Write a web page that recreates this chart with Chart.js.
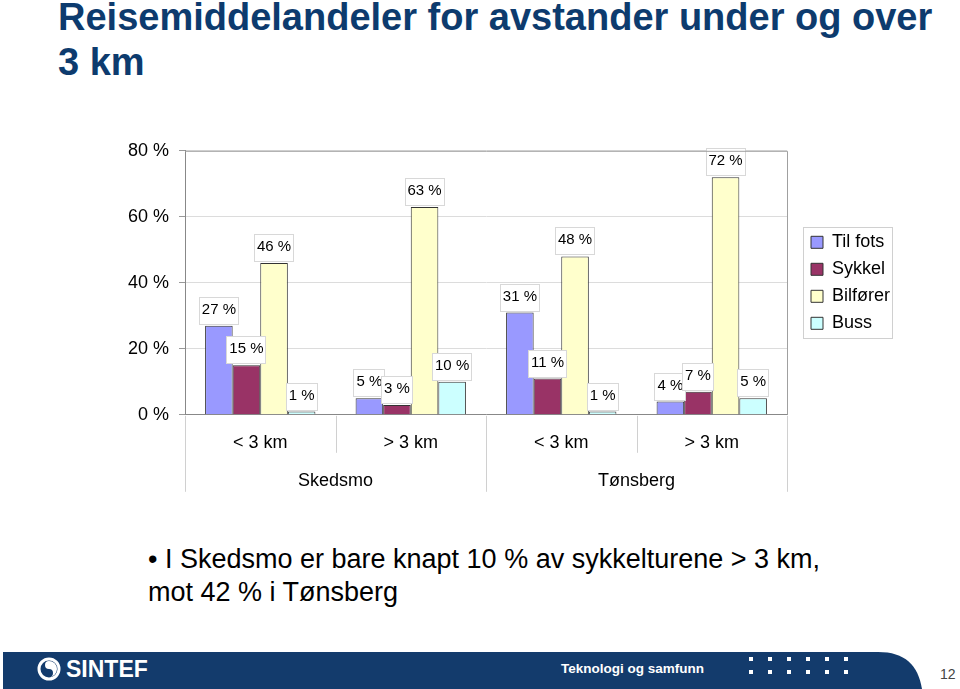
<!DOCTYPE html>
<html>
<head>
<meta charset="utf-8">
<script src="https://cdn.jsdelivr.net/npm/chart.js@4"></script>
<style>
  html, body { margin: 0; padding: 0; background: #fff; }
  body { width: 960px; height: 689px; position: relative; overflow: hidden; font-family: "Liberation Sans", Arial, sans-serif; }
  #title { position: absolute; left: 58px; top: -5px; font-size: 38px; font-weight: bold; line-height: 45px; color: #0d3b6e; }
  #chartBox { position: absolute; left: 100px; top: 130px; }
  #bullet { position: absolute; left: 148px; top: 543px; font-size: 27px; line-height: 33px; color: #000; }
  #footer { position: absolute; left: 0; top: 645px; }
</style>
</head>
<body>
<div id="title">Reisemiddelandeler for avstander under og over<br>3 km</div>
<div id="chartBox"><canvas id="chart" width="800" height="362"></canvas></div>
<div id="bullet">• I Skedsmo er bare knapt 10 % av sykkelturene &gt; 3 km,<br>mot 42 % i Tønsberg</div>
<svg id="footer" width="960" height="44" xmlns="http://www.w3.org/2000/svg">
  <path d="M3,7 H878 C905,7 918,20 922,44 H3 Z" fill="#133b6c"/>
  <circle cx="49" cy="24" r="10" fill="none" stroke="#fff" stroke-width="3"/>
  <path d="M49,16 a8,8 0 0,1 0,16 a4,4 0 0,0 0,-8 a4,4 0 0,1 0,-8 z" fill="#fff"/>
  <text x="66" y="32" fill="#fff" font-family="Liberation Sans, Arial, sans-serif" font-weight="bold" font-size="23">SINTEF</text>
  <text x="561" y="28" fill="#fff" font-family="Liberation Sans, Arial, sans-serif" font-weight="bold" font-size="13.5">Teknologi og samfunn</text>
  <g fill="#fff">
    <rect x="749" y="12" width="4" height="4"/><rect x="768" y="12" width="4" height="4"/><rect x="787" y="12" width="4" height="4"/>
    <rect x="806" y="12" width="4" height="4"/><rect x="825" y="12" width="4" height="4"/><rect x="844" y="12" width="4" height="4"/>
    <rect x="749" y="25" width="4" height="4"/><rect x="768" y="25" width="4" height="4"/><rect x="787" y="25" width="4" height="4"/>
    <rect x="806" y="25" width="4" height="4"/><rect x="825" y="25" width="4" height="4"/><rect x="844" y="25" width="4" height="4"/>
  </g>
  <text x="940" y="34" fill="#444" font-family="Liberation Sans, Arial, sans-serif" font-size="14">12</text>
</svg>
<script>
const categories = ["< 3 km", "> 3 km", "< 3 km", "> 3 km"];
const groups = ["Skedsmo", "Tønsberg"];
const tilFots = [27, 5, 31, 4];
const sykkel = [15, 3, 11, 7];
const bilforer = [46, 63, 48, 72];
const buss = [1, 10, 1, 5];
const yMax = 80;
const yStep = 20;

const FONT = '"Liberation Sans", Arial, sans-serif';
const LEGEND_GAP = 15;

// value boxes above each bar
const labelBoxes = {
  id: "labelBoxes",
  afterDatasetsDraw(chart) {
    const ctx = chart.ctx;
    ctx.save();
    ctx.font = "15px " + FONT;
    ctx.textAlign = "center";
    ctx.textBaseline = "middle";
    ctx.lineWidth = 1;
    chart.data.datasets.forEach((ds, i) => {
      chart.getDatasetMeta(i).data.forEach((bar, j) => {
        let txt = ds.data[j] + " %";
        let w = Math.round(ctx.measureText(txt).width + 6);
        let bottom = Math.round(bar.y) - 1;
        let left = Math.round(bar.x - w / 2);
        ctx.fillStyle = "#fff";
        ctx.fillRect(left, bottom - 28, w, 28);
        ctx.strokeStyle = "#d8d8d8";
        ctx.strokeRect(left + 0.5, bottom - 27.5, w - 1, 27);
        ctx.fillStyle = "#000";
        ctx.fillText(txt, bar.x, bottom - 15);
      });
    });
    ctx.restore();
  }
};

// frame, category separators and legend border
const frame = {
  id: "frame",
  afterInit(chart) {
    let lg = chart.legend;
    let fit = lg.fit;
    lg.fit = function () { fit.call(this); this.width += LEGEND_GAP; };
  },
  afterLayout(chart) {
    chart.legend.left += LEGEND_GAP;
  },
  afterDraw(chart) {
    const ctx = chart.ctx;
    const a = chart.chartArea;
    const x = chart.scales.x;
    ctx.save();
    ctx.lineWidth = 1;
    ctx.strokeStyle = "#a0a0a0";
    ctx.beginPath();
    ctx.moveTo(a.left, a.top + 0.5);
    ctx.lineTo(a.right + 0.5, a.top + 0.5);
    ctx.lineTo(a.right + 0.5, a.bottom);
    ctx.stroke();

    ctx.strokeStyle = "#d0d0d0";
    for (let i = 0; i <= categories.length; i++) {
      let px;
      if (i === 0) px = x.left;
      else if (i === categories.length) px = x.right;
      else px = (x.getPixelForValue(i - 1) + x.getPixelForValue(i)) / 2;
      px = Math.round(px) + 0.5;
      let len = i % 2 === 0 ? 77 : 38;
      ctx.beginPath();
      ctx.moveTo(px, a.bottom + 1);
      ctx.lineTo(px, a.bottom + len);
      ctx.stroke();
    }

    const boxes = chart.legend.legendHitBoxes;
    if (boxes && boxes.length) {
      ctx.font = "18px " + FONT;
      let l = boxes[0].left - 8;
      let t = boxes[0].top - 6;
      let last = boxes[boxes.length - 1];
      let r = Math.max(...chart.legend.legendItems.map((it, k) =>
        boxes[k].left + 12 + 9 + ctx.measureText(it.text).width)) + 2;
      let b = last.top + last.height + 6;
      ctx.strokeStyle = "#d0d0d0";
      ctx.strokeRect(Math.round(l) + 0.5, Math.round(t) + 0.5, Math.round(r - l), Math.round(b - t));
    }
    ctx.restore();
  }
};

function series(label, values, color) {
  return {
    label: label,
    data: values,
    backgroundColor: color,
    borderColor: "#333",
    borderWidth: 1,
    borderSkipped: "bottom",
    barPercentage: 1,
    categoryPercentage: 0.733
  };
}

const ctx = document.getElementById("chart").getContext("2d");

let chart = new Chart(ctx, {
  type: "bar",
  data: {
    labels: categories,
    datasets: [
      series("Til fots", tilFots, "#9999ff"),
      series("Sykkel", sykkel, "#993366"),
      series("Bilfører", bilforer, "#ffffcc"),
      series("Buss", buss, "#ccffff")
    ]
  },
  options: {
    responsive: false,
    animation: false,
    devicePixelRatio: 1,
    layout: { padding: { top: 19, right: 0, bottom: 0, left: 0 } },
    plugins: {
      tooltip: { enabled: false },
      legend: {
        position: "right",
        fullSize: false,
        labels: {
          font: { family: FONT, size: 18, lineHeight: 1 },
          color: "#000",
          boxWidth: 12,
          boxHeight: 12,
          padding: 9
        }
      }
    },
    scales: {
      x: {
        grid: { display: false, drawTicks: false },
        border: { display: true, color: "#888" },
        ticks: { font: { family: FONT, size: 18 }, color: "#000", padding: 17 }
      },
      x2: {
        type: "category",
        labels: groups,
        position: "bottom",
        offset: true,
        grid: { display: false, drawTicks: false },
        border: { display: false },
        ticks: { font: { family: FONT, size: 18 }, color: "#000", padding: 0 }
      },
      y: {
        min: 0,
        max: yMax,
        afterFit(scale) { scale.width = 85; },
        ticks: {
          stepSize: yStep,
          font: { family: FONT, size: 18 },
          color: "#000",
          padding: 10,
          callback: v => v + " %"
        },
        grid: { color: "#dcdcdc", tickColor: "#999", tickLength: 6 },
        border: { color: "#888" }
      }
    }
  },
  plugins: [labelBoxes, frame]
});
</script>
</body>
</html>
